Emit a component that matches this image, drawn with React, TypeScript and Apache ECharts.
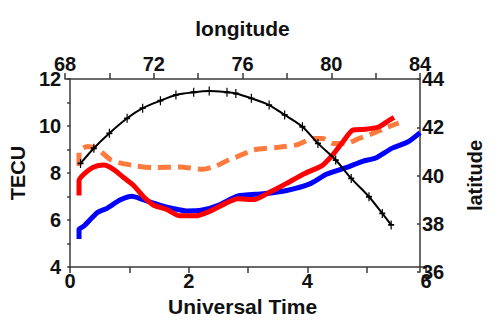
import React, { useEffect, useRef } from "react";
import * as echarts from "echarts";

// Universal Time (h) / TECU readings
const utBlue = [0.15, 0.15, 0.23, 0.46, 0.62, 0.84, 1.04, 1.23, 1.51, 1.73, 1.96, 2.23, 2.51, 2.82, 3.26, 3.65, 4.04, 4.32, 4.65, 4.93, 5.15, 5.43, 5.7, 5.9];
const tecBlue = [5.2, 5.6, 5.74, 6.32, 6.5, 6.85, 7.01, 6.87, 6.64, 6.5, 6.39, 6.43, 6.64, 7.02, 7.12, 7.26, 7.54, 7.95, 8.23, 8.5, 8.64, 9.06, 9.33, 9.72];

const utRed = [0.15, 0.15, 0.23, 0.4, 0.57, 0.73, 0.9, 1.07, 1.23, 1.4, 1.62, 1.85, 2.12, 2.34, 2.62, 2.82, 3.1, 3.37, 3.65, 3.93, 4.26, 4.43, 4.6, 4.76, 4.98, 5.2, 5.37, 5.46];
const tecRed = [7.05, 7.68, 7.95, 8.26, 8.34, 8.16, 7.81, 7.47, 7.01, 6.64, 6.46, 6.18, 6.18, 6.36, 6.71, 6.91, 6.87, 7.19, 7.56, 7.95, 8.34, 8.78, 9.33, 9.82, 9.86, 9.96, 10.23, 10.37];

const utOrange = [0.15, 0.15, 0.29, 0.46, 0.68, 0.84, 1.12, 1.4, 1.85, 2.23, 2.46, 2.68, 2.82, 3.1, 3.48, 3.82, 4.1, 4.26, 4.43, 4.65, 4.87, 5.1, 5.32, 5.54];
const tecOrange = [8.3, 8.9, 9.13, 9.03, 8.57, 8.43, 8.3, 8.23, 8.26, 8.16, 8.3, 8.57, 8.7, 8.99, 9.09, 9.2, 9.47, 9.47, 9.26, 9.26, 9.47, 9.68, 9.92, 10.13];

// Track: longitude / latitude
const lonTrack = [68.7, 69.3, 70.0, 70.8, 71.5, 72.3, 73.0, 73.8, 74.5, 75.3, 75.7, 76.4, 77.2, 77.9, 78.7, 79.4, 80.2, 80.9, 81.7, 82.3, 82.7];
const latTrack = [40.5, 41.13, 41.75, 42.37, 42.79, 43.1, 43.34, 43.45, 43.5, 43.45, 43.4, 43.2, 42.92, 42.51, 42.02, 41.33, 40.64, 39.88, 39.12, 38.43, 37.95];

const zip = (a: number[], b: number[]) => a.map((v, i) => [v, b[i]]);

const FONT = "Liberation Sans";
const axisColor = "#3a3a3a";
const labelStyle = { fontFamily: FONT, fontWeight: "bold" as const, fontSize: 20, color: "#111" };
const nameStyle = { fontFamily: FONT, fontWeight: "bold" as const, fontSize: 21, color: "#111" };

export default function App() {
  const ref = useRef<HTMLDivElement>(null);
  useEffect(() => {
    if (!ref.current) return;
    const chart = echarts.init(ref.current, undefined, { renderer: "svg" });
    chart.setOption({
      animation: false,
      backgroundColor: "#fff",
      grid: [
        { left: 66, right: 73, top: 79, bottom: 50 },
        { left: 65, right: 79, top: 79, bottom: 50 },
      ],
      xAxis: [
        {
          type: "value",
          gridIndex: 0,
          position: "bottom",
          min: 0,
          max: 6,
          interval: 1,
          name: "Universal Time",
          nameLocation: "middle",
          nameGap: 26,
          nameTextStyle: { ...nameStyle, padding: [0, 11, 0, 0] },
          axisLine: { show: true, lineStyle: { color: axisColor, width: 1.5 } },
          axisTick: { show: true, length: 6, lineStyle: { color: axisColor, width: 1.5 } },
          axisLabel: { ...labelStyle, margin: 4, formatter: (v: number) => (v % 2 === 0 ? String(v) : "") },
          splitLine: { show: false },
        },
        {
          type: "value",
          gridIndex: 1,
          position: "top",
          min: 68,
          max: 84,
          interval: 2,
          name: "longitude",
          nameLocation: "middle",
          nameGap: 40,
          nameTextStyle: nameStyle,
          axisLine: { show: true, lineStyle: { color: axisColor, width: 1.5 } },
          axisTick: { show: true, length: 6, lineStyle: { color: axisColor, width: 1.5 } },
          axisLabel: { ...labelStyle, margin: 5, formatter: (v: number) => ((v - 68) % 4 === 0 ? String(v) : "") },
          splitLine: { show: false },
        },
      ],
      yAxis: [
        {
          type: "value",
          gridIndex: 0,
          position: "left",
          offset: 5,
          min: 4,
          max: 12,
          interval: 1,
          name: "TECU",
          nameLocation: "middle",
          nameGap: 31,
          nameTextStyle: { ...nameStyle, fontSize: 20 },
          axisLine: { show: true, lineStyle: { color: axisColor, width: 1.5 } },
          axisTick: { show: true, length: 3, lineStyle: { color: axisColor, width: 1.5 } },
          axisLabel: { ...labelStyle, margin: 4, formatter: (v: number) => (v % 2 === 0 ? String(v) : "") },
          splitLine: { show: false },
        },
        {
          type: "value",
          gridIndex: 1,
          position: "right",
          min: 36,
          max: 44,
          interval: 2,
          name: "latitude",
          nameLocation: "middle",
          nameGap: 45,
          nameTextStyle: { ...nameStyle, fontSize: 20 },
          axisLine: { show: true, lineStyle: { color: axisColor, width: 1.5 } },
          axisTick: { show: true, inside: true, length: 3, lineStyle: { color: axisColor, width: 1.5 } },
          axisLabel: { ...labelStyle, margin: 2 },
          splitLine: { show: false },
        },
      ],
      series: [
        {
          type: "line",
          xAxisIndex: 0,
          yAxisIndex: 0,
          data: zip(utOrange, tecOrange),
          showSymbol: false,
          smooth: 0.2,
          lineStyle: { color: "#ff7a3d", width: 5, type: [13, 7] },
        },
        {
          type: "line",
          xAxisIndex: 0,
          yAxisIndex: 0,
          data: zip(utBlue, tecBlue),
          showSymbol: false,
          smooth: 0.2,
          lineStyle: { color: "#0000ff", width: 5 },
        },
        {
          type: "line",
          xAxisIndex: 0,
          yAxisIndex: 0,
          data: zip(utRed, tecRed),
          showSymbol: false,
          smooth: 0.2,
          lineStyle: { color: "#ff0000", width: 5 },
        },
        {
          type: "line",
          xAxisIndex: 1,
          yAxisIndex: 1,
          data: zip(lonTrack, latTrack),
          smooth: 0.3,
          symbol: "path://M2,0 H3 V2 H5 V3 H3 V5 H2 V3 H0 V2 H2 Z",
          symbolSize: [6, 9],
          itemStyle: { color: "#000" },
          lineStyle: { color: "#000", width: 2 },
        },
      ],
    });
    return () => chart.dispose();
  }, []);
  return <div ref={ref} style={{ position: "fixed", left: 0, top: 0, width: 499, height: 322 }} />;
}
